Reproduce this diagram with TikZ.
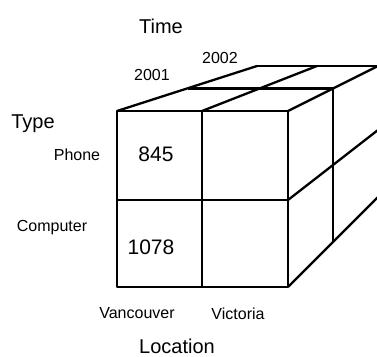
\documentclass[tikz,border=0pt]{standalone}
\usepackage{fontspec}
\setmainfont{Liberation Sans}

\begin{document}
\begin{tikzpicture}[x=1pt, y=-1pt,
  edge/.style={line width=2.3pt, line join=round},
  dimlabel/.style={font=\fontsize{20}{24}\selectfont, inner sep=0pt},
  member/.style={font=\fontsize{16}{19}\selectfont, inner sep=0pt},
  cell/.style={font=\fontsize{21}{25}\selectfont, inner sep=0pt}
]
\useasboundingbox (0,0) rectangle (377,356);
\clip (0,0) rectangle (377,356);

% Front face corners
\coordinate (f11) at (117,111);
\coordinate (f12) at (202,111);
\coordinate (f13) at (288,111);
\coordinate (f21) at (117,200);
\coordinate (f22) at (202,200);
\coordinate (f23) at (288,200);
\coordinate (f31) at (117,287);
\coordinate (f32) at (202,287);
\coordinate (f33) at (288,287);

% Middle slice (depth 1)
\coordinate (m11) at (187.5,88.5);
\coordinate (m12) at (259.5,88.5);
\coordinate (m13) at (333,88.5);
\coordinate (m23) at (333,165);
\coordinate (m33) at (333,242);

% Back slice (depth 2)
\coordinate (b11) at (257,66);
\coordinate (b12) at (317,66);
\coordinate (b13) at (378,66);
\coordinate (b23) at (378,130);
\coordinate (b33) at (378,197);

% Front face grid
\draw[edge] (f11) rectangle (f33);
\draw[edge] (f12) -- (f32);
\draw[edge] (f21) -- (f23);

% Top face
\draw[edge] (f11) -- (b11);
\draw[edge] (f12) -- (b12);
\draw[edge] (f13) -- (b13);
\draw[edge] (m11) -- (m13);
\draw[edge] (b11) -- (b13);

% Right face
\draw[edge] (m13) -- (m33);
\draw[edge] (f23) -- (b23);
\draw[edge] (f33) -- (b33);

% Cell values
\node[cell] (v845)  at (156,154) {845};
\node[cell] (v1078) at (151,247) {1078};

% Dimension labels
\node[dimlabel] (time) at (161,26)  {Time};
\node[dimlabel] (type) at (33,124)  {Type};
\node[dimlabel] (loc)  at (177,346) {Location};

% Members
\node[member] (y2001) at (152,75)  {2001};
\node[member] (y2002) at (220,58)  {2002};
\node[member] (phone) at (77,155)  {Phone};
\node[member] (comp)  at (52,228)  {Computer};
\node[member] (van)   at (137,313) {Vancouver};
\node[member] (vic)   at (238,314) {Victoria};

\end{tikzpicture}
\end{document}
